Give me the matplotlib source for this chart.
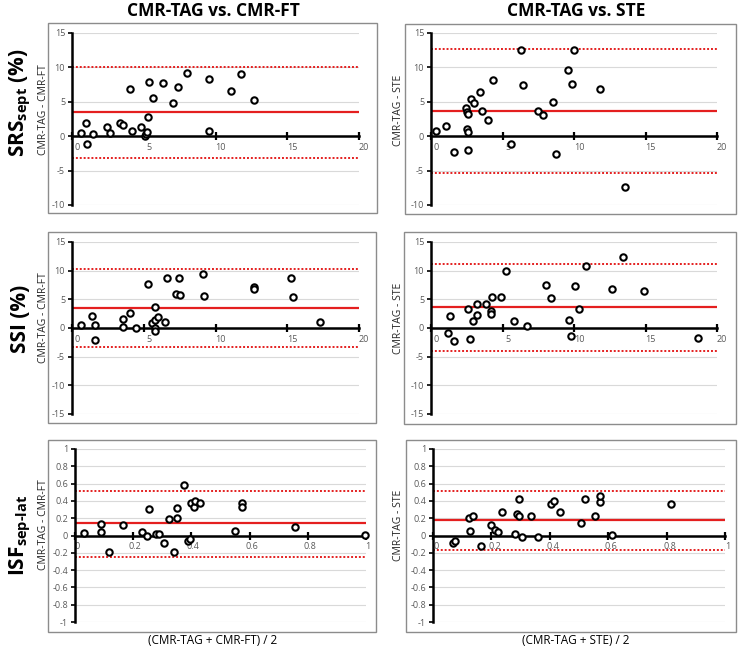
import matplotlib
matplotlib.use('Agg')
import matplotlib.pyplot as plt
from matplotlib.patches import Rectangle
from matplotlib.transforms import ScaledTranslation

plt.rcParams['font.family'] = ['Open Sans', 'DejaVu Sans']
plt.rcParams['mathtext.fontset'] = 'custom'
plt.rcParams['mathtext.rm'] = 'Open Sans:bold'
plt.rcParams['mathtext.bf'] = 'Open Sans:bold'

# ---- data ----
# SRS sept, CMR-TAG vs CMR-FT
srs_ft_mean = [0.6, 0.98, 1.07, 1.49, 2.44, 2.67, 3.37, 3.53, 4.07, 4.16, 4.81, 5.06, 5.16,
               5.25, 5.32, 5.37, 5.62, 6.34, 7.02, 7.41, 8.01, 9.57, 9.57, 11.1, 11.75, 12.66]
srs_ft_diff = [0.48, 1.9, -1.1, 0.29, 1.4, 0.48, 1.9, 1.6, 6.93, 0.73, 1.4, 0.1, 0.39,
               0.63, 2.81, 7.9, 5.62, 7.8, 4.84, 7.22, 9.25, 8.33, 0.73, 6.64, 9.1, 5.33]
srs_ft_lines = [3.45, 10.03, -3.15]   # bias, upper LoA, lower LoA

# SRS sept, CMR-TAG vs STE
srs_ste_mean = [0.35, 1.07, 1.58, 2.44, 2.49, 2.54, 2.56, 2.61, 2.61, 2.77, 3.03, 3.45, 3.56, 3.96,
                4.31, 5.61, 6.29, 6.43, 7.45, 7.8, 8.5, 8.71, 9.57, 9.85, 10.01, 11.85, 13.57]
srs_ste_diff = [0.77, 1.55, -2.27, 4.06, 3.58, 1.02, 0.58, 3.29, -2.03, 5.37, 4.89, 6.39, 3.63, 2.42,
                8.13, -1.11, 12.58, 7.5, 3.63, 3.14, 4.98, -2.52, 9.58, 7.64, 12.48, 6.82, -7.4]
srs_ste_lines = [3.68, 12.63, -5.32]

# SSI, CMR-TAG vs CMR-FT
ssi_ft_mean = [0.6, 1.39, 1.58, 1.6, 3.53, 3.53, 4.04, 4.45, 5.29, 5.55, 5.78, 5.78, 5.78, 5.78,
               5.99, 6.5, 6.64, 7.26, 7.52, 7.47, 9.14, 9.19, 12.67, 12.67, 15.27, 15.43, 17.26]
ssi_ft_diff = [0.46, 2.09, 0.46, -2.15, 1.57, 0.17, 2.55, 0.0, 7.66, 0.93, 1.45, 3.66, 0.06, -0.58,
               1.92, 1.1, 8.76, 5.86, 5.75, 8.65, 9.34, 5.63, 7.2, 6.85, 8.65, 5.4, 1.04]
ssi_ft_lines = [3.54, 10.27, -3.31]

# SSI, CMR-TAG vs STE
ssi_ste_mean = [1.16, 1.33, 1.61, 2.61, 2.7, 2.91, 3.19, 3.19, 3.86, 4.21, 4.21, 4.28, 4.89, 5.22,
                5.82, 6.68, 8.03, 8.38, 9.64, 9.78, 10.1, 10.34, 10.87, 12.67, 13.41, 14.88, 18.65]
ssi_ste_diff = [-0.81, 2.09, -2.26, 3.31, -1.92, 1.28, 4.12, 2.32, 4.24, 2.9, 2.44, 5.34, 5.34, 9.87,
                1.28, 0.41, 7.43, 5.17, 1.45, -1.45, 7.31, 3.25, 10.8, 6.79, 12.3, 6.38, -1.74]
ssi_ste_lines = [3.66, 11.2, -4.0]

# ISF sep-lat, CMR-TAG vs CMR-FT
isf_ft_mean = [0.032, 0.088, 0.088, 0.118, 0.164, 0.229, 0.249, 0.253, 0.277, 0.289, 0.305, 0.323,
               0.339, 0.349, 0.35, 0.375, 0.388, 0.395, 0.4, 0.409, 0.414, 0.431, 0.55, 0.574,
               0.574, 0.756, 0.995]
isf_ft_diff = [0.027, 0.131, 0.035, -0.185, 0.123, 0.035, -0.004, 0.304, 0.019, 0.019, -0.092, 0.185,
               -0.185, 0.316, 0.197, 0.582, -0.066, -0.035, 0.374, 0.331, 0.401, 0.374, 0.054, 0.381,
               0.324, 0.104, 0.004]
isf_ft_lines = [0.139, 0.52, -0.25]

# ISF sep-lat, CMR-TAG vs STE
isf_ste_mean = [0.07, 0.076, 0.124, 0.128, 0.136, 0.163, 0.197, 0.211, 0.223, 0.235, 0.281, 0.286,
                0.293, 0.294, 0.305, 0.337, 0.359, 0.403, 0.416, 0.436, 0.506, 0.522, 0.556, 0.571,
                0.573, 0.614, 0.815]
isf_ste_diff = [-0.092, -0.062, 0.2, 0.054, 0.22, -0.116, 0.116, 0.066, 0.046, 0.277, 0.012, 0.254,
                0.224, 0.42, -0.019, 0.22, -0.012, 0.362, 0.397, 0.277, 0.139, 0.424, 0.22, 0.385,
                0.462, 0.004, 0.362]
isf_ste_lines = [0.181, 0.52, -0.162]

col_titles = ['CMR-TAG vs. CMR-FT', 'CMR-TAG vs. STE']
y_titles = ['CMR-TAG - CMR-FT', 'CMR-TAG - STE']
x_titles = ['(CMR-TAG + CMR-FT) / 2', '(CMR-TAG + STE) / 2']

strain_xticks = [0, 5, 10, 15, 20]
isf_xticks = [0, 0.2, 0.4, 0.6, 0.8, 1]
srs_yticks = [-10, -5, 0, 5, 10, 15]
ssi_yticks = [-15, -10, -5, 0, 5, 10, 15]
isf_yticks = [-1, -0.8, -0.6, -0.4, -0.2, 0, 0.2, 0.4, 0.6, 0.8, 1]

RED = '#e41f1f'
GRID = '#d9d9d9'
TICKCOL = '#595959'

W, H = 738, 648
fig = plt.figure(figsize=(W / 100, H / 100), dpi=100)


def px_axes(l, t, r, b):
    return fig.add_axes([l / W, 1 - b / H, (r - l) / W, (b - t) / H])


def px_box(l, t, r, b):
    fig.patches.append(Rectangle((l / W, 1 - b / H), (r - l) / W, (b - t) / H,
                                 transform=fig.transFigure, fill=False,
                                 ec='#8c8c8c', lw=1.0, zorder=0))


def panel(ax, x, y, lines, xticks, yticks, xshift):
    bias, hi, lo = lines
    ax.set_facecolor('none')
    ax.set_xlim(xticks[0], xticks[-1])
    ax.set_ylim(yticks[0], yticks[-1])
    ax.set_axisbelow(True)
    ax.yaxis.grid(True, color=GRID, lw=0.8)
    for s in ['top', 'right']:
        ax.spines[s].set_visible(False)
    ax.spines['bottom'].set_position(('data', 0))
    ax.spines['left'].set_linewidth(1.8)
    ax.spines['bottom'].set_linewidth(1.8)
    ax.spines['bottom'].set_zorder(3)

    ax.axhline(bias, color=RED, lw=1.6, zorder=2)
    ax.axhline(hi, color=RED, lw=1.4, ls=(0, (1, 1)), zorder=2)
    ax.axhline(lo, color=RED, lw=1.4, ls=(0, (1, 1)), zorder=2)

    ax.plot(x, y, 'o', ms=4.6, mfc='white', mec='black', mew=1.5,
            zorder=4, clip_on=False)

    ax.set_xticks(xticks)
    ax.set_xticklabels([f'{round(v, 1):g}' for v in xticks])
    ax.set_yticks(yticks)
    ax.set_yticklabels([f'{round(v, 1):g}' for v in yticks])
    ax.tick_params(axis='x', direction='inout', length=6, width=1.6,
                   labelsize=6.5, labelcolor=TICKCOL, pad=2)
    ax.tick_params(axis='y', direction='out', length=3, width=1.2,
                   labelsize=6.5, labelcolor=TICKCOL, pad=2)
    off = ScaledTranslation(xshift / 100, 0, fig.dpi_scale_trans)
    for lab in ax.get_xticklabels():
        lab.set_transform(lab.get_transform() + off)


# panel boxes
px_box(48, 23, 377, 213)
px_box(405, 24, 736, 214)
px_box(48, 232, 376, 423)
px_box(404, 232, 736, 424)
px_box(48, 440, 376, 632)
px_box(406, 440, 736, 632)

ax = px_axes(72, 33, 359, 205)
panel(ax, srs_ft_mean, srs_ft_diff, srs_ft_lines, strain_xticks, srs_yticks, 5)
ax = px_axes(431, 33, 717, 205)
panel(ax, srs_ste_mean, srs_ste_diff, srs_ste_lines, strain_xticks, srs_yticks, 5)
ax = px_axes(72, 242, 359, 414)
panel(ax, ssi_ft_mean, ssi_ft_diff, ssi_ft_lines, strain_xticks, ssi_yticks, 5)
ax = px_axes(431, 242, 717, 414)
panel(ax, ssi_ste_mean, ssi_ste_diff, ssi_ste_lines, strain_xticks, ssi_yticks, 5)
ax = px_axes(75, 449, 366, 622)
panel(ax, isf_ft_mean, isf_ft_diff, isf_ft_lines, isf_xticks, isf_yticks, 2)
ax = px_axes(433, 449, 725, 622)
panel(ax, isf_ste_mean, isf_ste_diff, isf_ste_lines, isf_xticks, isf_yticks, 3)

# column titles and x titles
for cx, t, xt in zip([213, 576], col_titles, x_titles):
    fig.text(cx / W, 1 - 11 / H, t, ha='center', va='center',
             fontsize=12.5, fontweight='bold')
    fig.text(cx / W, 1 - 641 / H, xt, ha='center', va='center', fontsize=8.5)

# y titles
for cx, yt in zip([43, 398], y_titles):
    for cy in [110, 318, 525]:
        fig.text(cx / W, 1 - cy / H, yt, rotation=90, ha='center', va='center',
                 fontsize=7.5, color='#262626')

# row labels
fig.text(20 / W, 1 - 103 / H, r'SRS$_{\text{sept}}$ (%)', rotation=90,
         ha='center', va='center', fontsize=15, fontweight='bold')
fig.text(20 / W, 1 - 319 / H, 'SSI (%)', rotation=90,
         ha='center', va='center', fontsize=15, fontweight='bold')
fig.text(20 / W, 1 - 535 / H, r'ISF$_{\text{sep-lat}}$', rotation=90,
         ha='center', va='center', fontsize=15, fontweight='bold')

fig.savefig('out.png', dpi=100)
